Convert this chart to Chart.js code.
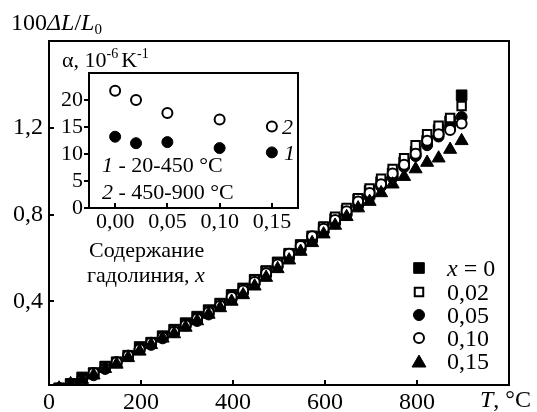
<!DOCTYPE html>
<html>
<head>
<meta charset="utf-8">
<script src="https://cdn.jsdelivr.net/npm/chart.js@4/dist/chart.umd.min.js"></script>
<style>
    html, body { margin: 0; padding: 0; background: #fff; }
    #wrap { position: relative; width: 537px; height: 412px; }
    canvas { position: absolute; left: 0; top: 0; }
</style>
</head>
<body>
<div id="wrap">
    <canvas id="main" width="537" height="412"></canvas>
    <canvas id="inset" width="537" height="412"></canvas>
</div>
<script>
// main plot: relative elongation vs temperature
const tempC = [22, 47, 72, 97, 122, 147, 172, 197, 222, 247, 272, 297,
    322, 347, 372, 397, 422, 447, 472, 497, 522, 547, 572, 597,
    622, 647, 672, 697, 722, 747, 772, 797, 822, 847, 872, 897];

const dL_x000 = [0.00, 0.02, 0.05, 0.07, 0.10, 0.12, 0.15, 0.19, 0.21, 0.24, 0.27, 0.30,
    0.33, 0.36, 0.39, 0.43, 0.46, 0.50, 0.54, 0.58, 0.62, 0.66, 0.70, 0.74,
    0.78, 0.82, 0.87, 0.91, 0.95, 0.99, 1.04, 1.09, 1.14, 1.19, 1.23, 1.35];
const dL_x002 = [0.00, 0.02, 0.04, 0.07, 0.10, 0.12, 0.15, 0.18, 0.21, 0.24, 0.27, 0.30,
    0.32, 0.36, 0.39, 0.42, 0.46, 0.50, 0.54, 0.58, 0.62, 0.66, 0.70, 0.745,
    0.79, 0.83, 0.875, 0.92, 0.965, 1.01, 1.06, 1.12, 1.17, 1.21, 1.245, 1.30];
const dL_x005 = [0.00, 0.02, 0.04, 0.06, 0.09, 0.12, 0.15, 0.18, 0.20, 0.23, 0.26, 0.29,
    0.31, 0.34, 0.38, 0.41, 0.44, 0.48, 0.52, 0.56, 0.60, 0.64, 0.68, 0.72,
    0.76, 0.80, 0.84, 0.88, 0.93, 0.97, 1.02, 1.07, 1.12, 1.16, 1.20, 1.25];
const dL_x010 = [0.00, 0.02, 0.04, 0.07, 0.09, 0.12, 0.15, 0.18, 0.21, 0.235, 0.26, 0.29,
    0.32, 0.35, 0.38, 0.42, 0.45, 0.49, 0.53, 0.57, 0.62, 0.655, 0.70, 0.735,
    0.775, 0.815, 0.86, 0.90, 0.94, 0.99, 1.03, 1.08, 1.14, 1.17, 1.19, 1.22];
const dL_x015 = [0.00, 0.02, 0.04, 0.06, 0.09, 0.11, 0.14, 0.17, 0.20, 0.23, 0.25, 0.28,
    0.31, 0.34, 0.37, 0.40, 0.43, 0.47, 0.51, 0.55, 0.59, 0.63, 0.67, 0.71,
    0.75, 0.79, 0.83, 0.86, 0.90, 0.94, 0.975, 1.01, 1.04, 1.06, 1.10, 1.14];

const legendLabels = ['x = 0', '0,02', '0,05', '0,10', '0,15'];
const mainXTicks = [0, 200, 400, 600, 800, 1000];
const mainYTicks = [0.4, 0.8, 1.2];

// inset: thermal expansion coefficient vs gadolinium content
const gdContent = [0.00, 0.02, 0.05, 0.10, 0.15];
const alpha_20_450 = [13.2, 12.0, 12.2, 11.1, 10.3];
const alpha_450_900 = [21.7, 20.0, 17.6, 16.4, 15.1];
const insetXTicks = [0.00, 0.05, 0.10, 0.15];
const insetYTicks = [0, 5, 10, 15, 20];

const FONT = "'Liberation Serif', 'Times New Roman', serif";
const BLACK = '#000';

function pts(xs, ys) {
    return xs.map((x, i) => ({ x: x, y: ys[i] }));
}

function comma(v, digits) {
    return v.toFixed(digits).replace('.', ',');
}

// text with mixed italic / super / subscript pieces
function drawRuns(ctx, x, y, runs, size) {
    ctx.save();
    ctx.fillStyle = BLACK;
    ctx.textBaseline = 'alphabetic';
    ctx.textAlign = 'left';
    for (const r of runs) {
        const s = r.small ? Math.round(size * 0.62) : size;
        ctx.font = (r.italic ? 'italic ' : '') + s + 'px ' + FONT;
        ctx.fillText(r.t, x, y + (r.dy || 0));
        x += ctx.measureText(r.t).width + (r.gap || 0);
    }
    ctx.restore();
}

function marker(ctx, style, filled, x, y, r) {
    ctx.save();
    ctx.beginPath();
    if (style === 'rect') {
        const s = r * Math.SQRT1_2;
        ctx.rect(x - s, y - s, 2 * s, 2 * s);
    } else if (style === 'triangle') {
        ctx.moveTo(x, y - r);
        ctx.lineTo(x + r * 0.866, y + r * 0.5);
        ctx.lineTo(x - r * 0.866, y + r * 0.5);
        ctx.closePath();
    } else {
        ctx.arc(x, y, r, 0, Math.PI * 2);
    }
    ctx.fillStyle = filled ? BLACK : '#fff';
    ctx.fill();
    ctx.lineWidth = filled ? 1 : 2;
    ctx.strokeStyle = BLACK;
    ctx.stroke();
    ctx.restore();
}

function series(label, ys, style, filled, radius, order) {
    return {
        label: label,
        data: pts(tempC, ys),
        pointStyle: style,
        pointRadius: radius,
        pointHoverRadius: radius,
        pointBorderWidth: filled ? 1 : 2,
        pointBackgroundColor: filled ? BLACK : '#fff',
        pointBorderColor: BLACK,
        showLine: false,
        order: order
    };
}

const mainDatasets = [
    series(legendLabels[0], dL_x000, 'rect', true, 7.5, 4),
    series(legendLabels[1], dL_x002, 'rect', false, 6, 3),
    series(legendLabels[2], dL_x005, 'circle', true, 5.5, 2),
    series(legendLabels[3], dL_x010, 'circle', false, 5, 1),
    series(legendLabels[4], dL_x015, 'triangle', true, 7.5, 0)
];
const legendStyle = [['rect', true, 7.5], ['rect', false, 6], ['circle', true, 5.5],
    ['circle', false, 5], ['triangle', true, 8]];

// frame + inward/outward tick marks
function frameAndTicks(xIn, yIn, xTicks, yTicks) {
    return {
        id: 'frame',
        afterDraw(chart) {
            const { ctx, chartArea: a, scales } = chart;
            ctx.save();
            ctx.strokeStyle = BLACK;
            ctx.lineWidth = 2;
            ctx.strokeRect(a.left, a.top, a.right - a.left, a.bottom - a.top);
            ctx.beginPath();
            for (const v of xTicks) {
                const px = Math.round(scales.x.getPixelForValue(v));
                ctx.moveTo(px, a.bottom);
                ctx.lineTo(px, a.bottom + (xIn ? -5 : 5));
            }
            for (const v of yTicks) {
                const py = Math.round(scales.y.getPixelForValue(v));
                ctx.moveTo(a.left, py);
                ctx.lineTo(a.left + (yIn ? 5 : -5), py);
            }
            ctx.stroke();
            ctx.restore();
        }
    };
}

const mainText = {
    id: 'mainText',
    afterDraw(chart) {
        const ctx = chart.ctx;
        drawRuns(ctx, 11, 30, [
            { t: '100' },
            { t: 'ΔL', italic: true },
            { t: '/' },
            { t: 'L', italic: true },
            { t: '0', small: true, dy: 4 }
        ], 24);
        drawRuns(ctx, 480, 407, [
            { t: 'T', italic: true },
            { t: ', °C' }
        ], 24);

        // legend
        const rows = [268, 292, 315, 338, 361];
        rows.forEach((y, i) => {
            const [st, f, r] = legendStyle[i];
            marker(ctx, st, f, 419, y + (st === 'triangle' ? 2 : 0), r);
            if (i === 0) {
                drawRuns(ctx, 447, y + 8, [{ t: 'x', italic: true }, { t: ' = 0' }], 24);
            } else {
                drawRuns(ctx, 447, y + 8, [{ t: legendLabels[i] }], 24);
            }
        });
    }
};

const insetText = {
    id: 'insetText',
    afterDraw(chart) {
        const ctx = chart.ctx;
        drawRuns(ctx, 62, 67, [
            { t: 'α, 10' },
            { t: '-6', small: true, dy: -9, gap: 3 },
            { t: 'K' },
            { t: '-1', small: true, dy: -9 }
        ], 22);
        drawRuns(ctx, 102, 172, [
            { t: '1', italic: true },
            { t: ' - 20-450 °C' }
        ], 22);
        drawRuns(ctx, 102, 199, [
            { t: '2', italic: true },
            { t: ' - 450-900 °C' }
        ], 22);
        drawRuns(ctx, 282, 134, [{ t: '2', italic: true }], 22);
        drawRuns(ctx, 284, 160, [{ t: '1', italic: true }], 22);
        drawRuns(ctx, 89, 257, [{ t: 'Содержание' }], 22);
        drawRuns(ctx, 87, 282, [{ t: 'гадолиния, ' }, { t: 'x', italic: true }], 22);
    }
};

Chart.defaults.font.family = FONT;
Chart.defaults.color = BLACK;

new Chart(document.querySelector('#main').getContext('2d'), {
    type: 'scatter',
    data: { datasets: mainDatasets },
    options: {
        responsive: false,
        animation: false,
        layout: { padding: { left: 0, top: 41, right: 28, bottom: 0 } },
        plugins: { legend: { display: false }, tooltip: { enabled: false } },
        scales: {
            x: {
                type: 'linear',
                min: 0,
                max: 1000,
                afterBuildTicks: s => { s.ticks = mainXTicks.map(v => ({ value: v })); },
                afterFit: s => { s.height = 27; },
                grid: { display: false, drawTicks: false },
                border: { display: false },
                ticks: {
                    padding: 3,
                    maxRotation: 0,
                    font: { size: 24 },
                    color: BLACK,
                    callback: v => (v === 1000 ? '' : String(v))
                }
            },
            y: {
                type: 'linear',
                min: 0.015,
                max: 1.6,
                afterBuildTicks: s => { s.ticks = mainYTicks.map(v => ({ value: v })); },
                afterFit: s => { s.width = 49; },
                grid: { display: false, drawTicks: false },
                border: { display: false },
                ticks: {
                    padding: 6,
                    font: { size: 24 },
                    color: BLACK,
                    callback: v => comma(v, 1)
                }
            }
        }
    },
    plugins: [frameAndTicks(true, true, [200, 400, 600, 800], mainYTicks), mainText]
});

new Chart(document.querySelector('#inset').getContext('2d'), {
    type: 'scatter',
    data: {
        datasets: [
            {
                label: '1 - 20-450 °C',
                data: pts(gdContent, alpha_20_450),
                pointStyle: 'circle',
                pointRadius: 5.5,
                pointBorderWidth: 1,
                pointBackgroundColor: BLACK,
                pointBorderColor: BLACK
            },
            {
                label: '2 - 450-900 °C',
                data: pts(gdContent, alpha_450_900),
                pointStyle: 'circle',
                pointRadius: 5,
                pointBorderWidth: 2,
                pointBackgroundColor: '#fff',
                pointBorderColor: BLACK
            }
        ]
    },
    options: {
        responsive: false,
        animation: false,
        layout: { padding: { left: 0, top: 73, right: 239, bottom: 0 } },
        plugins: { legend: { display: false }, tooltip: { enabled: false } },
        scales: {
            x: {
                type: 'linear',
                min: -0.025,
                max: 0.175,
                afterBuildTicks: s => { s.ticks = insetXTicks.map(v => ({ value: v })); },
                afterFit: s => { s.height = 204; },
                grid: { display: false, drawTicks: false },
                border: { display: false },
                ticks: {
                    padding: 1,
                    maxRotation: 0,
                    font: { size: 22 },
                    color: BLACK,
                    callback: v => comma(v, 2)
                }
            },
            y: {
                type: 'linear',
                min: 0,
                max: 25,
                afterBuildTicks: s => { s.ticks = insetYTicks.map(v => ({ value: v })); },
                afterFit: s => { s.width = 89; },
                grid: { display: false, drawTicks: false },
                border: { display: false },
                ticks: {
                    padding: 6,
                    font: { size: 22 },
                    color: BLACK,
                    callback: v => String(v)
                }
            }
        }
    },
    plugins: [frameAndTicks(true, false, insetXTicks, insetYTicks), insetText]
});
</script>
</body>
</html>
